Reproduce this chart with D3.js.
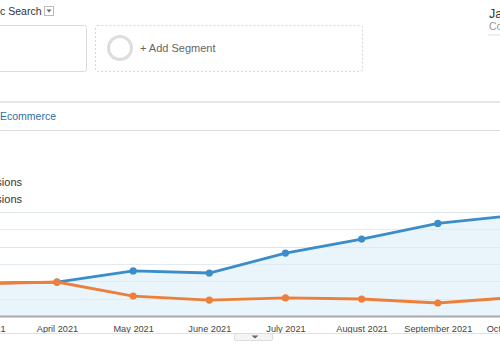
<!DOCTYPE html>
<html>
<head>
<meta charset="utf-8">
<script src="https://cdn.jsdelivr.net/npm/d3@7"></script>
<style>
  html, body { margin: 0; padding: 0; background: #fff; overflow: hidden; }
  svg { display: block; font-family: "Liberation Sans", Arial, sans-serif; }
</style>
</head>
<body>
<svg id="chart" width="500" height="350"></svg>
<script>
// ---- data ----
const months = ["March 2021", "April 2021", "May 2021", "June 2021", "July 2021", "August 2021", "September 2021", "October 2021"];
const seriesA = [190, 196, 260, 248, 363, 444, 534, 581];   // blue: Sessions (segment 1)
const seriesB = [185, 196, 115, 92, 104, 98, 75, 107];      // orange: Sessions (segment 2)
const legendLabels = ["Sessions", "Sessions"];
const yTicks = [0, 100, 200, 300, 400, 500, 600];

const svg = d3.select("#chart");

// ---- header UI ----
svg.append("text").attr("x", 41.5).attr("y", 15).attr("text-anchor", "end")
  .attr("font-size", 10.5).attr("fill", "#333").text("Organic Search");
svg.append("rect").attr("x", 44.5).attr("y", 6.5).attr("width", 9).attr("height", 9)
  .attr("fill", "#fff").attr("stroke", "#bbb");
svg.append("path").attr("d", "M46.5,9.5 L51.5,9.5 L49,12.5 Z").attr("fill", "#666");

// segment boxes
svg.append("rect").attr("x", -10.5).attr("y", 25.5).attr("width", 97).attr("height", 46).attr("rx", 2)
  .attr("fill", "#fff").attr("stroke", "#dcdcdc");
svg.append("rect").attr("x", 95.5).attr("y", 25.5).attr("width", 267).attr("height", 46).attr("rx", 2)
  .attr("fill", "#fff").attr("stroke", "#d6d6d6").attr("stroke-dasharray", "2,2");
svg.append("circle").attr("cx", 120).attr("cy", 48).attr("r", 11.5)
  .attr("fill", "none").attr("stroke", "#ddd").attr("stroke-width", 3);
svg.append("text").attr("x", 140).attr("y", 51.5).attr("font-size", 11).attr("fill", "#666").text("+ Add Segment");

// top right
svg.append("text").attr("x", 489).attr("y", 18).attr("font-size", 12.5).attr("fill", "#333").text("January 1, 2021");
svg.append("text").attr("x", 489).attr("y", 30).attr("font-size", 10.5).attr("fill", "#999").text("Compare to");
svg.append("line").attr("x1", 488).attr("x2", 500).attr("y1", 35).attr("y2", 35).attr("stroke", "#ddd");

// separators
svg.append("line").attr("x1", 0).attr("x2", 500).attr("y1", 102).attr("y2", 102).attr("stroke", "#ddd").attr("stroke-width", 1.5);
svg.append("text").attr("x", 0).attr("y", 120).attr("font-size", 10.5).attr("fill", "#2d6fae").text("Ecommerce");
svg.append("line").attr("x1", 0).attr("x2", 500).attr("y1", 130.5).attr("y2", 130.5).attr("stroke", "#ddd").attr("stroke-width", 1.2);

// legend (cropped at the left edge)
legendLabels.forEach((t, i) => {
  svg.append("text").attr("x", 22).attr("y", 186 + i * 17).attr("text-anchor", "end")
    .attr("font-size", 11).attr("fill", "#333").text(t);
});

// ---- chart ----
const x = d3.scalePoint().domain(months).range([-19.2, 514]);
const y = d3.scaleLinear().domain([0, 600]).range([316, 212]);

// gridlines
svg.append("g").selectAll("line").data(yTicks.slice(1)).join("line")
  .attr("x1", 0).attr("x2", 500)
  .attr("y1", d => Math.round(y(d)) + 0.5).attr("y2", d => Math.round(y(d)) + 0.5)
  .attr("stroke", d => (d % 200 === 0) ? "#e6e6e6" : "#f0f0f0");

const dataA = months.map((m, i) => ({ m, v: seriesA[i] }));
const dataB = months.map((m, i) => ({ m, v: seriesB[i] }));

svg.append("path").datum(dataA)
  .attr("fill", "#e6f2fa").attr("fill-opacity", 0.85)
  .attr("d", d3.area().x(d => x(d.m)).y0(y(0)).y1(d => y(d.v)));

// redraw gridlines faintly over fill
svg.append("g").selectAll("line").data(yTicks.slice(1)).join("line")
  .attr("x1", 0).attr("x2", 500)
  .attr("y1", d => Math.round(y(d)) + 0.5).attr("y2", d => Math.round(y(d)) + 0.5)
  .attr("stroke", "#d8e6ef").attr("stroke-opacity", 0.5);

const line = d3.line().x(d => x(d.m)).y(d => y(d.v));
svg.append("path").datum(dataA).attr("fill", "none").attr("stroke", "#3a8dc9").attr("stroke-width", 2.8).attr("d", line);
svg.append("g").selectAll("circle").data(dataA).join("circle")
  .attr("cx", d => x(d.m)).attr("cy", d => y(d.v)).attr("r", 3.6).attr("fill", "#3a8dc9");
svg.append("path").datum(dataB).attr("fill", "none").attr("stroke", "#ec7f39").attr("stroke-width", 2.8).attr("d", line);
svg.append("g").selectAll("circle").data(dataB).join("circle")
  .attr("cx", d => x(d.m)).attr("cy", d => y(d.v)).attr("r", 3.6).attr("fill", "#ec7f39");

// x axis
const xAxis = svg.append("g").attr("transform", `translate(0,${y(0)})`)
  .call(d3.axisBottom(x).tickSize(0).tickPadding(9));
xAxis.select(".domain").attr("stroke", "#a9a9a9").attr("stroke-width", 2.2);
xAxis.selectAll("text").attr("font-size", 9.2).attr("fill", "#444")
  .attr("font-family", "\"Liberation Sans\", Arial, sans-serif");

svg.append("line").attr("x1", 0).attr("x2", 500).attr("y1", 333.5).attr("y2", 333.5).attr("stroke", "#e2e2e2");
svg.append("rect").attr("x", 234.5).attr("y", 333.5).attr("width", 38).attr("height", 7).attr("rx", 1.5)
  .attr("fill", "#f4f4f4").attr("stroke", "#ddd");
svg.append("path").attr("d", "M251.5,335.5 L258.5,335.5 L255,338.5 Z").attr("fill", "#666");
</script>
</body>
</html>
